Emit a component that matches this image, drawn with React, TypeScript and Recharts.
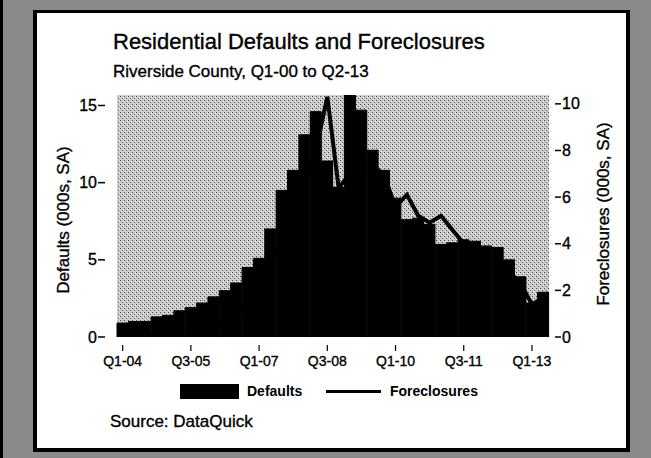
import React from 'react';
import { ComposedChart, Bar, Line, XAxis, YAxis, CartesianGrid } from 'recharts';

const quarters = [
  'Q1-04', 'Q2-04', 'Q3-04', 'Q4-04', 'Q1-05', 'Q2-05', 'Q3-05', 'Q4-05',
  'Q1-06', 'Q2-06', 'Q3-06', 'Q4-06', 'Q1-07', 'Q2-07', 'Q3-07', 'Q4-07',
  'Q1-08', 'Q2-08', 'Q3-08', 'Q4-08', 'Q1-09', 'Q2-09', 'Q3-09', 'Q4-09',
  'Q1-10', 'Q2-10', 'Q3-10', 'Q4-10', 'Q1-11', 'Q2-11', 'Q3-11', 'Q4-11',
  'Q1-12', 'Q2-12', 'Q3-12', 'Q4-12', 'Q1-13', 'Q2-13',
];

// thousands, seasonally adjusted
const defaults = [
  0.9, 1.0, 1.0, 1.3, 1.4, 1.7, 1.9, 2.2, 2.6, 3.0, 3.5, 4.5, 5.1, 7.0, 9.5, 10.8,
  13.1, 14.6, 11.4, 9.7, 15.7, 14.7, 12.1, 10.8, 9.0, 7.6, 7.7, 7.3, 6.0, 6.1, 6.3, 6.2,
  5.9, 5.8, 5.0, 3.9, 2.2, 2.9,
];

const foreclosures = [
  0.1, 0.1, 0.1, 0.1, 0.2, 0.2, 0.2, 0.3, 0.4, 0.6, 0.9, 1.4, 2.2, 3.0, 4.2, 5.3,
  6.6, 8.0, 10.3, 6.4, 7.0, 7.2, 7.4, 6.9, 5.6, 6.1, 5.2, 4.9, 5.2, 4.6, 4.0, 3.6,
  3.2, 3.0, 2.8, 2.3, 1.4, 1.7,
];

const leftTicks = [0, 5, 10, 15];
const rightTicks = [0, 2, 4, 6, 8, 10];

const data = quarters.map((q, i) => ({ q, defaults: defaults[i], fore: foreclosures[i] }));

const FONT = '"Liberation Sans", Arial, Helvetica, sans-serif';
const ink = { WebkitTextStroke: '0.35px #000' } as React.CSSProperties;

const LeftTick = ({ x, y, payload }: any) => (
  <g>
    <line x1={x - 19} x2={x - 12} y1={y} y2={y} stroke="#000" strokeWidth={1.5} />
    <text x={x - 20} y={y} dy="0.35em" textAnchor="end" fontSize={16} fontFamily={FONT} fill="#000" stroke="#000" strokeWidth={0.35}>
      {payload.value}
    </text>
  </g>
);

const RightTick = ({ x, y, payload }: any) => (
  <g>
    <line x1={x + 6} x2={x + 12} y1={y} y2={y} stroke="#000" strokeWidth={1.5} />
    <text x={x + 13} y={y} dy="0.35em" textAnchor="start" fontSize={16} fontFamily={FONT} fill="#000" stroke="#000" strokeWidth={0.35}>
      {payload.value}
    </text>
  </g>
);

const BottomTick = ({ x, y, payload }: any) => (
  <g>
    <line x1={x} x2={x} y1={y + 8} y2={y + 14} stroke="#000" strokeWidth={1.2} />
    <text x={x} y={y + 24} dy="0.35em" textAnchor="middle" fontSize={14} fontFamily={FONT} fill="#000" stroke="#000" strokeWidth={0.35}>
      {payload.value}
    </text>
  </g>
);

export default function App() {
  return (
    <div style={{ position: 'absolute', left: 0, top: 0, width: 651, height: 458, background: '#8a8a8a', borderLeft: '3px solid #000', boxSizing: 'border-box', fontFamily: FONT }}>
      <div style={{ position: 'absolute', left: 30, top: 10, width: 597, height: 442, background: '#fff', boxSizing: 'border-box', borderStyle: 'solid', borderColor: '#000', borderWidth: '3px 4px 4px 4px' }} />
      <div style={{ position: 'absolute', left: -3, top: 0 }}>
        <ComposedChart width={651} height={458} data={data} barCategoryGap={0} margin={{ top: 95, right: 42, bottom: 91, left: 57 }}>
          <defs>
            <pattern id="stipple" width="4" height="4" patternUnits="userSpaceOnUse">
              <rect width="4" height="4" fill="#c8c8c8" />
              <rect x="0" y="0" width="1" height="1" fill="#4a4a4a" />
              <rect x="2" y="2" width="1" height="1" fill="#6a6a6a" />
              <rect x="3" y="1" width="1" height="1" fill="#eeeeee" />
              <rect x="1" y="3" width="1" height="1" fill="#e6e6e6" />
            </pattern>
          </defs>
          <CartesianGrid horizontal={false} vertical={false} fill="url(#stipple)" stroke="none" />
          <XAxis dataKey="q" interval={5} axisLine={false} tickLine={false} tickSize={0} tickMargin={0} height={30} tick={<BottomTick />} />
          <YAxis yAxisId="l" domain={[0, 15.68]} ticks={leftTicks} allowDataOverflow axisLine={false} tickLine={false} tickSize={0} tickMargin={0} width={60} tick={<LeftTick />} />
          <YAxis yAxisId="r" orientation="right" domain={[0, 10.38]} ticks={rightTicks} allowDataOverflow axisLine={false} tickLine={false} tickSize={0} tickMargin={0} width={60} tick={<RightTick />} />
          <Bar yAxisId="l" dataKey="defaults" fill="#000" stroke="#000" strokeWidth={1} isAnimationActive={false} />
          <Line yAxisId="r" dataKey="fore" type="linear" stroke="#000" strokeWidth={4} dot={false} isAnimationActive={false} />
        </ComposedChart>
      </div>
      <div style={{ position: 'absolute', left: 110, top: 29, fontSize: 22, lineHeight: '26px', color: '#000', whiteSpace: 'nowrap', ...ink }}>
        Residential Defaults and Foreclosures
      </div>
      <div style={{ position: 'absolute', left: 110, top: 62, fontSize: 17, lineHeight: '20px', color: '#000', whiteSpace: 'nowrap', ...ink }}>
        Riverside County, Q1-00 to Q2-13
      </div>
      <div style={{ position: 'absolute', left: 61, top: 220, width: 0, height: 0 }}>
        <div style={{ position: 'absolute', transform: 'translate(-50%, -50%) rotate(-90deg)', fontSize: 17, lineHeight: '20px', whiteSpace: 'nowrap', ...ink }}>
          Defaults (000s, SA)
        </div>
      </div>
      <div style={{ position: 'absolute', left: 601, top: 214, width: 0, height: 0 }}>
        <div style={{ position: 'absolute', transform: 'translate(-50%, -50%) rotate(-90deg)', fontSize: 17, lineHeight: '20px', whiteSpace: 'nowrap', ...ink }}>
          Foreclosures (000s, SA)
        </div>
      </div>
      <div style={{ position: 'absolute', left: 177, top: 384, width: 59, height: 15, background: '#000' }} />
      <div style={{ position: 'absolute', left: 244, top: 383, fontSize: 14, fontWeight: 'bold', lineHeight: '17px', whiteSpace: 'nowrap' }}>Defaults</div>
      <div style={{ position: 'absolute', left: 323, top: 390, width: 55, height: 3, background: '#000' }} />
      <div style={{ position: 'absolute', left: 387, top: 383, fontSize: 14, fontWeight: 'bold', lineHeight: '17px', whiteSpace: 'nowrap' }}>Foreclosures</div>
      <div style={{ position: 'absolute', left: 107, top: 412, fontSize: 17, lineHeight: '20px', whiteSpace: 'nowrap', ...ink }}>Source: DataQuick</div>
    </div>
  );
}
